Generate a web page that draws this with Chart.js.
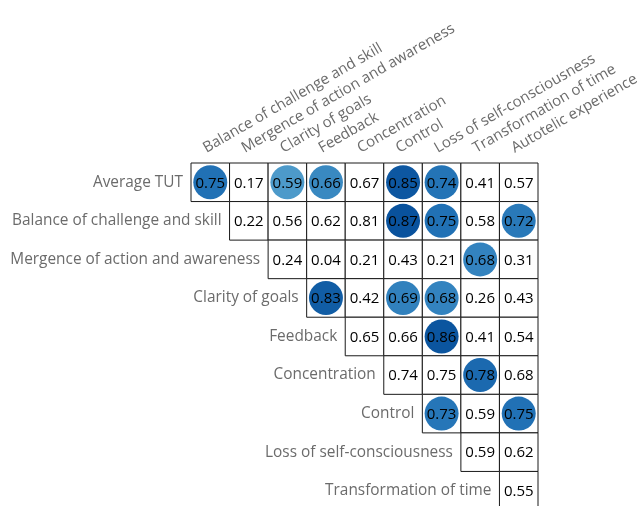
<!DOCTYPE html>
<html>
<head>
<meta charset="utf-8">
<script src="https://cdn.jsdelivr.net/npm/chart.js@4/dist/chart.umd.min.js"></script>
<style>
  html, body { margin: 0; padding: 0; background: #fff; overflow: hidden; }
</style>
</head>
<body>
<canvas id="corr" width="641" height="510"></canvas>
<script>
// Row variables (left side) and column variables (top side)
const rowLabels = [
  'Average TUT',
  'Balance of challenge and skill',
  'Mergence of action and awareness',
  'Clarity of goals',
  'Feedback',
  'Concentration',
  'Control',
  'Loss of self-consciousness',
  'Transformation of time'
];
const colLabels = [
  'Balance of challenge and skill',
  'Mergence of action and awareness',
  'Clarity of goals',
  'Feedback',
  'Concentration',
  'Control',
  'Loss of self-consciousness',
  'Transformation of time',
  'Autotelic experience'
];

// Upper-triangle correlations: row i lists columns i..8
const correlations = [
  [0.75, 0.17, 0.59, 0.66, 0.67, 0.85, 0.74, 0.41, 0.57],
  [0.22, 0.56, 0.62, 0.81, 0.87, 0.75, 0.58, 0.72],
  [0.24, 0.04, 0.21, 0.43, 0.21, 0.68, 0.31],
  [0.83, 0.42, 0.69, 0.68, 0.26, 0.43],
  [0.65, 0.66, 0.86, 0.41, 0.54],
  [0.74, 0.75, 0.78, 0.68],
  [0.73, 0.59, 0.75],
  [0.59, 0.62],
  [0.55]
];

// Cells drawn with a filled circle (1 = marked)
const marked = [
  [1, 0, 1, 1, 0, 1, 1, 0, 0],
  [0, 0, 0, 0, 1, 1, 0, 1],
  [0, 0, 0, 0, 0, 1, 0],
  [1, 0, 1, 1, 0, 0],
  [0, 0, 1, 0, 0],
  [0, 0, 1, 0],
  [1, 0, 1],
  [0, 0],
  [0]
];

// Sequential blue ramp
const blues = ['#f7fbff','#deebf7','#c6dbef','#9ecae1','#6baed6','#4292c6','#2171b5','#08519c','#08306b'];
function hexToRgb(h) {
  const n = parseInt(h.slice(1), 16);
  return [(n >> 16) & 255, (n >> 8) & 255, n & 255];
}
function blueFor(v) {
  const t = Math.max(0, Math.min(1, v)) * (blues.length - 1);
  const i = Math.min(blues.length - 2, Math.floor(t));
  const f = t - i;
  const a = hexToRgb(blues[i]), b = hexToRgb(blues[i + 1]);
  const c = a.map((x, k) => Math.round(x + (b[k] - x) * f));
  return `rgb(${c[0]},${c[1]},${c[2]})`;
}

const cellPoints = [];
const circlePoints = [];
correlations.forEach((row, r) => {
  row.forEach((v, k) => {
    const c = r + k;
    const p = { x: colLabels[c], y: rowLabels[r], v };
    cellPoints.push(p);
    if (marked[r][k]) circlePoints.push(p);
  });
});

const FONT = '"Open Sans", "Noto Sans", sans-serif';
const LABEL_SIZE = 15.4;
const HEADER_SIZE = 15;
const VALUE_SIZE = 15;

function cellSize(chart) {
  return chart.scales.x.width / colLabels.length;
}

// Values in each cell and row names beside the diagonal
const annotate = {
  id: 'annotate',
  afterDatasetsDraw(chart) {
    const ctx = chart.ctx;
    const xs = chart.scales.x, ys = chart.scales.y;
    const half = cellSize(chart) / 2;
    ctx.save();
    ctx.textAlign = 'center';
    ctx.textBaseline = 'middle';
    ctx.fillStyle = '#000';
    ctx.font = `${VALUE_SIZE}px ${FONT}`;
    chart.getDatasetMeta(0).data.forEach((el, i) => {
      ctx.fillText(cellPoints[i].v.toFixed(2), el.x, el.y + 1);
    });
    ctx.textAlign = 'right';
    ctx.fillStyle = '#6b6b6b';
    ctx.font = `${LABEL_SIZE}px ${FONT}`;
    rowLabels.forEach((name, r) => {
      const x = xs.getPixelForValue(r) - half - 8;
      const y = ys.getPixelForValue(r);
      ctx.fillText(name, x, y);
    });
    ctx.restore();
  }
};

new Chart(document.getElementById('corr'), {
  type: 'scatter',
  data: {
    datasets: [
      {
        data: cellPoints,
        order: 2,
        pointStyle: 'rect',
        radius: ctx => cellSize(ctx.chart) / 2 / Math.SQRT1_2,
        backgroundColor: '#ffffff',
        borderColor: '#1a1a1a',
        borderWidth: 1,
        clip: 4
      },
      {
        data: circlePoints,
        order: 1,
        pointStyle: 'circle',
        radius: 17,
        backgroundColor: ctx => blueFor(ctx.raw ? ctx.raw.v : 0),
        borderWidth: 0,
        clip: 4
      }
    ]
  },
  options: {
    responsive: false,
    animation: false,
    events: [],
    layout: { autoPadding: false, padding: { left: 191, right: 103, top: 0, bottom: 0 } },
    plugins: { legend: { display: false }, tooltip: { enabled: false } },
    scales: {
      x: {
        type: 'category',
        labels: colLabels,
        position: 'top',
        offset: true,
        grid: { display: false, drawTicks: false },
        border: { display: false },
        ticks: {
          autoSkip: false,
          minRotation: 30,
          maxRotation: 30,
          padding: 6,
          labelOffset: 3,
          color: '#6b6b6b',
          font: { family: FONT, size: HEADER_SIZE }
        },
        afterFit(scale) {
          scale.height = 163;
          scale.paddingLeft = 0;
          scale.paddingRight = 0;
        }
      },
      y: {
        type: 'category',
        labels: rowLabels,
        offset: true,
        display: false
      }
    }
  },
  plugins: [annotate]
});
</script>
</body>
</html>
